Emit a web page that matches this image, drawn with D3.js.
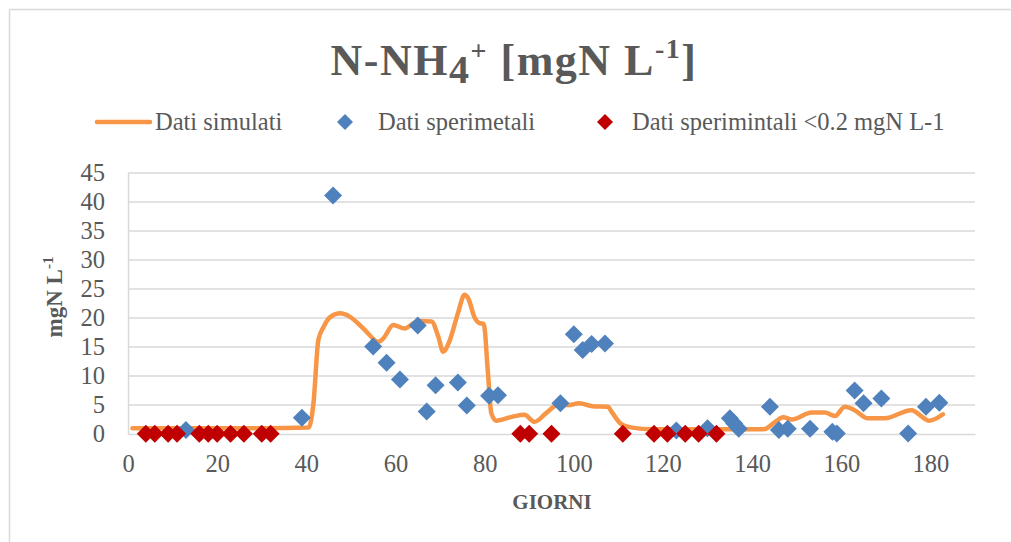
<!DOCTYPE html>
<html>
<head>
<meta charset="utf-8">
<script src="https://cdn.jsdelivr.net/npm/d3@7/dist/d3.min.js"></script>
<style>
  html, body { margin: 0; padding: 0; background: #fff; }
  svg { display: block; }
  text { font-family: "Liberation Serif", "Times New Roman", serif; fill: #595959; }
</style>
</head>
<body>
<svg id="chart" width="1011" height="542"></svg>
<script>
// ---- Data ----
const xTicks = [0, 20, 40, 60, 80, 100, 120, 140, 160, 180];
const yTicks = [0, 5, 10, 15, 20, 25, 30, 35, 40, 45];

// Simulated series (orange smoothed line)
const simDays   = [1, 10, 20, 30, 40.5, 41.6, 42.7, 43.9, 45.4, 47.6, 49.8, 52.8, 56.2, 57.3, 59.5, 62.1, 64, 65.5, 68.1, 69.6, 70.7, 72.2, 74, 75.5, 76.3, 77.8, 78.9, 79.8, 80.7, 81.5, 82.6, 86.3, 88.9, 91.2, 93.8, 96.4, 99, 101.2, 104.2, 107.6, 108.7, 110.5, 113.1, 117.6, 122, 137, 142.6, 145.2, 147, 148.9, 153.4, 156.3, 158.6, 160.8, 163, 166, 169.7, 175.7, 179.8, 182.8];
const simValues = [1.0, 1.0, 1.0, 1.0, 1.1, 5.3, 16.2, 18.5, 20.2, 20.8, 20.2, 18.2, 15.9, 16.5, 18.8, 18.2, 19.1, 19.5, 19.4, 16.8, 14.2, 16.2, 20.8, 24.0, 23.4, 20.0, 19.1, 19.0, 11.0, 3.6, 2.3, 3.0, 3.3, 2.1, 3.6, 5.0, 5.0, 5.3, 4.8, 4.7, 3.6, 1.8, 1.1, 0.8, 0.8, 0.8, 0.8, 2.1, 2.9, 2.5, 3.7, 3.7, 3.1, 4.7, 4.1, 2.7, 2.7, 4.1, 2.3, 3.4];

// Experimental data (blue diamonds)
const expDays   = [13, 39, 46, 55, 58, 61, 65, 67, 69, 74, 76, 81, 83, 97, 100, 102, 104, 107, 123, 130, 135, 136, 137, 144, 146, 148, 153, 158, 159, 163, 165, 169, 175, 179, 182];
const expValues = [0.7, 2.8, 41.1, 15.1, 12.3, 9.4, 18.7, 3.9, 8.4, 8.9, 4.9, 6.6, 6.7, 5.3, 17.2, 14.5, 15.5, 15.6, 0.6, 1.0, 2.7, 1.8, 0.9, 4.7, 0.7, 0.9, 0.9, 0.4, 0.1, 7.5, 5.3, 6.1, 0.1, 4.7, 5.4];

// Experimental data below 0.2 mgN/L (red diamonds)
const lowDays   = [4, 6, 9, 11, 16, 18, 20, 23, 26, 30, 32, 88, 90, 95, 111, 118, 121, 125, 128, 132];
const lowValues = [0.05, 0.05, 0.05, 0.05, 0.05, 0.05, 0.05, 0.05, 0.05, 0.05, 0.05, 0.05, 0.05, 0.05, 0.05, 0.05, 0.05, 0.05, 0.05, 0.05];

const legendLabels = ["Dati simulati", "Dati sperimetali", "Dati sperimintali <0.2 mgN L-1"];

// ---- Layout ----
const svg = d3.select("#chart");
const W = 1011, H = 542;
const plot = { left: 128, right: 975, top: 173, bottom: 434 };

const x = d3.scaleLinear().domain([0, 190]).range([plot.left, plot.right]);
const y = d3.scaleLinear().domain([0, 45]).range([plot.bottom, plot.top]);

const GRID = "#d9d9d9";
const ORANGE = "#f79646", BLUE = "#4f81bd", RED = "#c00000";

// chart frame (top + left visible)
svg.append("line").attr("x1", 9.5).attr("x2", W).attr("y1", 9.5).attr("y2", 9.5)
  .attr("stroke", GRID).attr("stroke-width", 1.5);
svg.append("line").attr("x1", 9.5).attr("x2", 9.5).attr("y1", 9.5).attr("y2", H)
  .attr("stroke", GRID).attr("stroke-width", 1.5);

// gridlines
svg.append("g").selectAll("line").data(yTicks.filter(d => d > 0)).join("line")
  .attr("x1", plot.left).attr("x2", plot.right)
  .attr("y1", d => y(d)).attr("y2", d => y(d))
  .attr("stroke", GRID).attr("stroke-width", 1.5);

// axes
const yAxis = d3.axisLeft(y).tickValues(yTicks).tickSize(0).tickPadding(23);
const gy = svg.append("g").attr("transform", `translate(${plot.left},0)`).call(yAxis);
gy.select(".domain").attr("stroke", GRID).attr("stroke-width", 1.5);
gy.selectAll("text").attr("font-size", 24.5).style("font-family", '"Liberation Serif", serif').attr("fill", "#595959");

const xAxis = d3.axisBottom(x).tickValues(xTicks).tickSize(0).tickPadding(21);
const gx = svg.append("g").attr("transform", `translate(0,${plot.bottom})`).call(xAxis);
gx.select(".domain").attr("stroke", GRID).attr("stroke-width", 1.5);
gx.selectAll("text").attr("font-size", 24.5).style("font-family", '"Liberation Serif", serif').attr("fill", "#595959");

// simulated line
const simData = simDays.map((d, i) => ({ d, v: simValues[i] }));
svg.append("path").datum(simData)
  .attr("fill", "none").attr("stroke", ORANGE).attr("stroke-width", 4.5)
  .attr("stroke-linejoin", "round").attr("stroke-linecap", "round")
  .attr("d", d3.line().x(p => x(p.d)).y(p => y(p.v)).curve(d3.curveMonotoneX));

// diamonds
function diamond(r) { return `M0,${-r}L${r},0L0,${r}L${-r},0Z`; }
const lowData = lowDays.map((d, i) => ({ d, v: lowValues[i] }));
const expData = expDays.map((d, i) => ({ d, v: expValues[i] }));

svg.append("g").selectAll("path").data(expData).join("path")
  .attr("d", diamond(9)).attr("fill", BLUE)
  .attr("transform", p => `translate(${x(p.d)},${y(p.v)})`);
svg.append("g").selectAll("path").data(lowData).join("path")
  .attr("d", diamond(9)).attr("fill", RED)
  .attr("transform", p => `translate(${x(p.d)},${y(p.v)})`);

// title
const title = svg.append("text").attr("x", 514).attr("y", 75)
  .attr("text-anchor", "middle").attr("font-size", 44).attr("font-weight", "bold")
  .attr("letter-spacing", 1.5);
title.append("tspan").text("N-NH");
title.append("tspan").attr("dy", 8).attr("font-size", 40).text("4");
title.append("tspan").attr("dy", -23).attr("font-size", 28).text("+");
title.append("tspan").attr("dy", 15).text(" [mgN L");
title.append("tspan").attr("dy", -17).attr("font-size", 28).text("-1");
title.append("tspan").attr("dy", 17).text("]");

// legend
const ly = 122;
const leg = svg.append("g");
leg.append("line").attr("x1", 97).attr("x2", 150).attr("y1", ly).attr("y2", ly)
  .attr("stroke", ORANGE).attr("stroke-width", 4.5).attr("stroke-linecap", "round");
leg.append("text").attr("x", 155).attr("y", ly + 8).attr("font-size", 24.5).text(legendLabels[0]);
leg.append("path").attr("d", diamond(8)).attr("fill", BLUE).attr("transform", `translate(345,${ly})`);
leg.append("text").attr("x", 378).attr("y", ly + 8).attr("font-size", 24.5).text(legendLabels[1]);
leg.append("path").attr("d", diamond(8)).attr("fill", RED).attr("transform", `translate(605,${ly})`);
leg.append("text").attr("x", 632).attr("y", ly + 8).attr("font-size", 24.5).text(legendLabels[2]);

// axis titles
svg.append("text").attr("x", 552).attr("y", 509).attr("text-anchor", "middle")
  .attr("font-size", 21).attr("font-weight", "bold").text("GIORNI");

const yt = svg.append("text").attr("transform", "translate(62,297) rotate(-90)")
  .attr("text-anchor", "middle").attr("font-size", 23).attr("font-weight", "bold");
yt.append("tspan").text("mgN L");
yt.append("tspan").attr("dy", -9).attr("font-size", 15).text("-1");
</script>
</body>
</html>
